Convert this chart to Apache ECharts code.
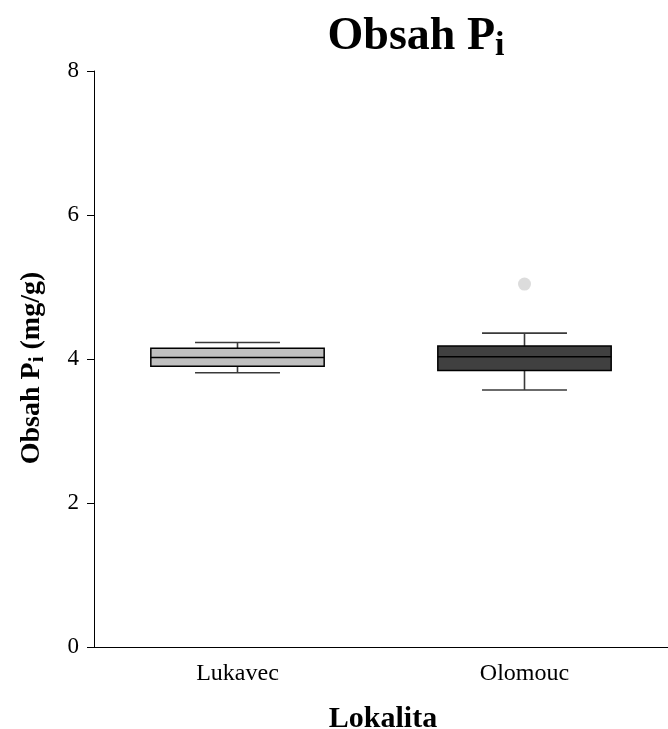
<!DOCTYPE html>
<html>
<head>
<meta charset="utf-8">
<title>Obsah Pi</title>
<script src="https://cdn.jsdelivr.net/npm/echarts@6/dist/echarts.min.js"></script>
<style>
  html, body { margin: 0; padding: 0; background: #ffffff; }
  #chart { width: 668px; height: 729px; }
</style>
</head>
<body>
<div id="chart"></div>
<script>
// Sites (x categories)
const categories = ['Lukavec', 'Olomouc'];
// Box-plot statistics per site (mg/g)
const whiskerLow  = [3.81, 3.57];
const quartile1   = [3.90, 3.84];
const medians     = [4.02, 4.03];
const quartile3   = [4.15, 4.18];
const whiskerHigh = [4.23, 4.36];
// Outliers: [site index, value]
const outliers = [[1, 5.04]];
// Y axis range / tick step
const yMin = 0, yMax = 8, yStep = 2;

const boxFill = ['#c0c0c0', '#404040'];
const serif = "'Liberation Serif', 'Times New Roman', 'DejaVu Serif', serif";

const boxData = categories.map((c, i) =>
  [i, whiskerLow[i], quartile1[i], medians[i], quartile3[i], whiskerHigh[i]]);

function renderBox(params, api) {
  const idx = api.value(0);
  const bandW = api.size([1, 0])[0];
  const half = bandW * 0.302;
  const capHalf = bandW * 0.148;
  const pLow = api.coord([idx, api.value(1)]);
  const pQ1 = api.coord([idx, api.value(2)]);
  const pMed = api.coord([idx, api.value(3)]);
  const pQ3 = api.coord([idx, api.value(4)]);
  const pHigh = api.coord([idx, api.value(5)]);
  const cx = pMed[0];
  const whiskerStyle = { stroke: '#3a3a3a', lineWidth: 1.6 };
  return {
    type: 'group',
    children: [
      { type: 'line', shape: { x1: cx, y1: pQ3[1], x2: cx, y2: pHigh[1] }, style: whiskerStyle },
      { type: 'line', shape: { x1: cx, y1: pQ1[1], x2: cx, y2: pLow[1] }, style: whiskerStyle },
      { type: 'line', shape: { x1: cx - capHalf, y1: pHigh[1], x2: cx + capHalf, y2: pHigh[1] }, style: whiskerStyle },
      { type: 'line', shape: { x1: cx - capHalf, y1: pLow[1], x2: cx + capHalf, y2: pLow[1] }, style: whiskerStyle },
      { type: 'rect', shape: { x: cx - half, y: pQ3[1], width: half * 2, height: pQ1[1] - pQ3[1] },
        style: { fill: boxFill[idx], stroke: '#000000', lineWidth: 1.5 } },
      { type: 'line', shape: { x1: cx - half, y1: pMed[1], x2: cx + half, y2: pMed[1] },
        style: { stroke: '#000000', lineWidth: 1.5 } }
    ]
  };
}

const chart = echarts.init(document.getElementById('chart'), null, { renderer: 'canvas' });
chart.setOption({
  backgroundColor: '#ffffff',
  animation: false,
  grid: { left: 94, top: 71, width: 577, height: 576, containLabel: false },
  xAxis: {
    type: 'category',
    data: categories,
    boundaryGap: true,
    axisLine: { lineStyle: { color: '#000000', width: 1 } },
    axisTick: { alignWithLabel: true, length: 6, lineStyle: { color: '#000000' } },
    axisLabel: { fontFamily: serif, fontSize: 24, color: '#000000', margin: 15 },
    splitLine: { show: false }
  },
  yAxis: {
    type: 'value',
    min: yMin, max: yMax, interval: yStep,
    axisLine: { show: true, lineStyle: { color: '#000000', width: 1 } },
    axisTick: { show: true, length: 7, lineStyle: { color: '#000000' } },
    axisLabel: { fontFamily: serif, fontSize: 23, color: '#000000', margin: 15 },
    splitLine: { show: false }
  },
  graphic: [
    {
      type: 'text', x: 416, y: 37,
      style: {
        text: 'Obsah P{sub|i}',
        fontFamily: serif, fontSize: 46, fontWeight: 'bold', fill: '#000000',
        align: 'center', verticalAlign: 'middle',
        rich: { sub: { fontFamily: serif, fontSize: 34, fontWeight: 'bold', padding: [18, 0, 0, 0] } }
      }
    },
    {
      type: 'text', x: 32, y: 368, rotation: Math.PI / 2,
      style: {
        text: 'Obsah P{sub|i} (mg/g)',
        fontFamily: serif, fontSize: 28, fontWeight: 'bold', fill: '#000000',
        align: 'center', verticalAlign: 'middle',
        rich: { sub: { fontFamily: serif, fontSize: 21, fontWeight: 'bold', padding: [12, 0, 0, 0] } }
      }
    },
    {
      type: 'text', x: 383, y: 719,
      style: {
        text: 'Lokalita',
        fontFamily: serif, fontSize: 30, fontWeight: 'bold', fill: '#000000',
        align: 'center', verticalAlign: 'middle'
      }
    }
  ],
  series: [
    {
      type: 'custom',
      renderItem: renderBox,
      data: boxData,
      encode: { x: 0, y: [1, 2, 3, 4, 5] },
      z: 2
    },
    {
      type: 'scatter',
      data: outliers,
      symbol: 'circle',
      symbolSize: 13,
      itemStyle: { color: '#d3d3d3' },
      z: 3
    }
  ]
});
</script>
</body>
</html>
